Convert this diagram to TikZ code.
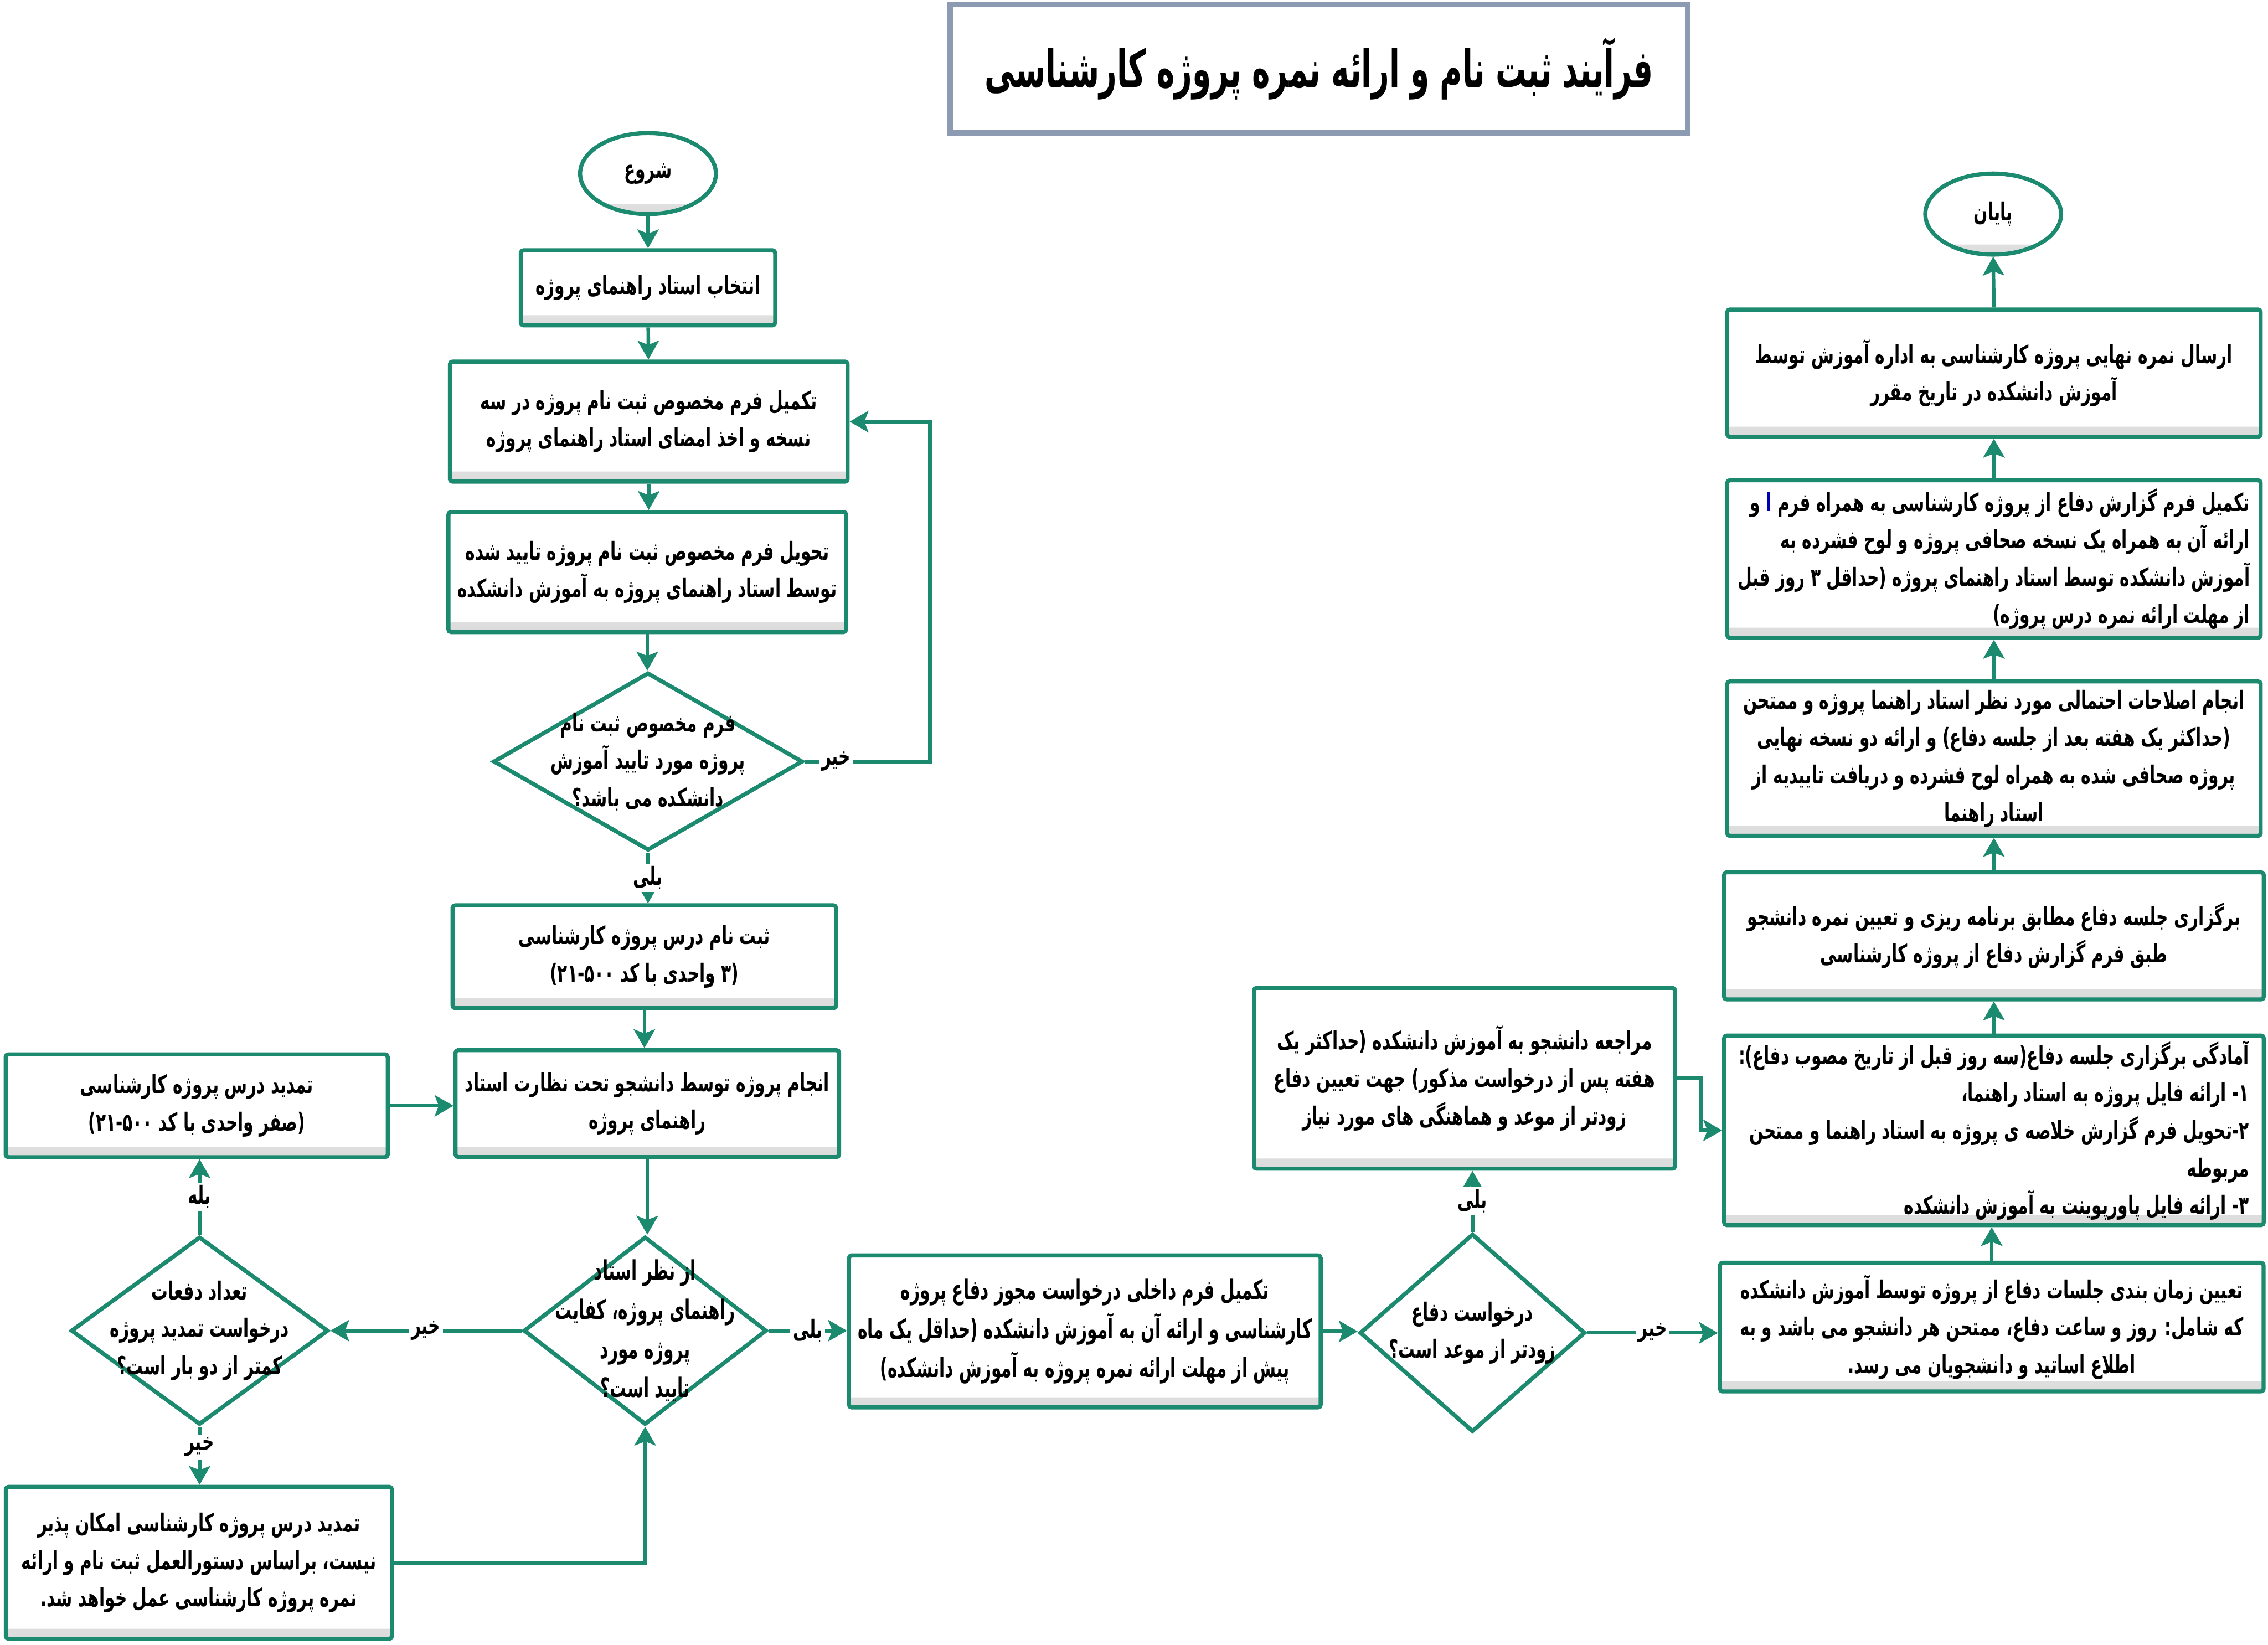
\documentclass[tikz,border=0pt]{standalone}
\usepackage{fontspec}
\usepackage{tikz}
\usetikzlibrary{arrows.meta,shapes.geometric,calc}
\newfontfamily\arabicfont[Script=Arabic,FakeStretch=0.66]{DejaVu Sans}
\newfontfamily\arabicnarrow[Script=Arabic,FakeStretch=0.615]{DejaVu Sans}
\newfontfamily\titlefont[Script=Arabic,FakeStretch=0.59]{DejaVu Sans}
\TeXXeTstate=1
\newcommand\fa[1]{\beginR #1\endR}
\definecolor{flow}{HTML}{1B8A6F}
\definecolor{frame}{HTML}{8C9BB2}
\tikzset{
  >={Stealth[length=3.7mm,width=4.2mm,inset=0.8mm]},
  stage/.style={draw=flow, line width=2.3pt, rounded corners=1.5pt, fill=white, align=center,
                inner sep=1pt, font=\arabicfont\bfseries\fontsize{14}{21}\selectfont,
                path picture={\shade[top color=white, bottom color=black!14]
                  (path picture bounding box.south west) rectangle ([yshift=2mm]path picture bounding box.south east);}},
  narrow/.style={font=\arabicnarrow\bfseries\fontsize{15}{22}\selectfont},
  term/.style={stage, ellipse, minimum width=2.68cm, minimum height=1.6cm},
  decision/.style={diamond, draw=flow, line width=2.3pt, fill=white, inner sep=0pt},
  dtext/.style={align=center, font=\arabicfont\bfseries\fontsize{14}{21}\selectfont},
  lbl/.style={fill=white, inner sep=1.5pt, font=\arabicfont\bfseries\fontsize{14}{15}\selectfont},
  link/.style={->, draw=flow, line width=2pt},
}
\begin{document}
\begin{tikzpicture}[x=0.02855cm, y=-0.02855cm]
  \useasboundingbox (0,0) rectangle (1568,1137);
  % title
  \node[draw=frame, line width=3pt, minimum width=14.56cm, minimum height=2.54cm,
        font=\titlefont\bfseries\fontsize{29}{34}\selectfont] (title) at (912,47.5)
    {\fa{فرآیند ثبت نام و ارائه نمره پروژه کارشناسی}};
  % registration column
  \node[term] (start) at (448,120) {\fa{شروع}};
  \node[stage, minimum width=5.02cm, minimum height=1.48cm] (a) at (448,199)
    {\fa{انتخاب استاد راهنمای پروژه}};
  \node[stage, minimum width=7.85cm, minimum height=2.37cm] (b) at (448.5,291.5)
    {\fa{تکمیل فرم مخصوص ثبت نام پروژه در سه}\\\fa{نسخه و اخذ امضای استاد راهنمای پروژه}};
  \node[stage, minimum width=7.85cm, minimum height=2.37cm] (c) at (447.5,395.5)
    {\fa{تحویل فرم مخصوص ثبت نام پروژه تایید شده}\\\fa{توسط استاد راهنمای پروژه به آموزش دانشکده}};
  \node[decision, minimum width=6.11cm, minimum height=3.51cm] (d1) at (448,526.5) {};
  \node[dtext] (d1t) at (d1) {\fa{فرم مخصوص ثبت نام}\\\fa{پروژه مورد تایید آموزش}\\\fa{دانشکده می باشد؟}};
  \node[stage, minimum width=7.57cm, minimum height=2.03cm] (e) at (445.5,661.5)
    {\fa{ثبت نام درس پروژه کارشناسی}\\\fa{(۳ واحدی با کد ۲۱-۵۰۰)}};
  \node[stage, minimum width=7.57cm, minimum height=2.11cm] (f) at (447.5,763)
    {\fa{انجام پروژه توسط دانشجو تحت نظارت استاد}\\\fa{راهنمای پروژه}};
  \node[decision, minimum width=4.8cm, minimum height=3.71cm] (d2) at (446,920) {};
  \node[dtext, narrow] (d2t) at (d2) {\fa{از نظر استاد}\\\fa{راهنمای پروژه، کفایت}\\\fa{پروژه مورد}\\\fa{تایید است؟}};
  % extension branch
  \node[decision, minimum width=5.08cm, minimum height=3.71cm] (d3) at (138,920) {};
  \node[dtext] (d3t) at (d3) {\fa{تعداد دفعات}\\\fa{درخواست تمدید پروژه}\\\fa{کمتر از دو بار است؟}};
  \node[stage, minimum width=7.54cm, minimum height=2.03cm] (h) at (136,764.5)
    {\fa{تمدید درس پروژه کارشناسی}\\\fa{(صفر واحدی با کد ۲۱-۵۰۰)}};
  \node[stage, minimum width=7.62cm, minimum height=3cm] (i) at (137.5,1080.5)
    {\fa{تمدید درس پروژه کارشناسی امکان پذیر}\\\fa{نیست، براساس دستورالعمل ثبت نام و ارائه}\\\fa{نمره پروژه کارشناسی عمل خواهد شد.}};
  % defence request
  \node[stage, narrow, minimum width=9.31cm, minimum height=3cm] (g) at (750,920.5)
    {\fa{تکمیل فرم داخلی درخواست مجوز دفاع پروژه}\\\fa{کارشناسی و ارائه آن به آموزش دانشکده (حداقل یک ماه}\\\fa{پیش از مهلت ارائه نمره پروژه به آموزش دانشکده)}};
  \node[decision, minimum width=4.45cm, minimum height=3.91cm] (d4) at (1018,921.5) {};
  \node[dtext] (d4t) at (d4) {\fa{درخواست دفاع}\\\fa{زودتر از موعد است؟}};
  \node[stage, minimum width=8.31cm, minimum height=3.57cm] (k) at (1012.5,745.5)
    {\fa{مراجعه دانشجو به آموزش دانشکده (حداکثر یک}\\\fa{هفته پس از درخواست مذکور) جهت تعیین دفاع}\\\fa{زودتر از موعد و هماهنگی های مورد نیاز}};
  % defence and grading column
  \node[stage, minimum width=10.73cm, minimum height=2.54cm] (j) at (1377,917.5)
    {\fa{تعیین زمان بندی جلسات دفاع از پروژه توسط آموزش دانشکده}\\\fa{که شامل: روز و ساعت دفاع، ممتحن هر دانشجو می باشد و به}\\\fa{اطلاع اساتید و دانشجویان می رسد.}};
  \node[stage, align=right, minimum width=10.65cm, minimum height=3.74cm] (l) at (1378.5,781.5)
    {\fa{آمادگی برگزاری جلسه دفاع(سه روز قبل از تاریخ مصوب دفاع):}\\\fa{۱- ارائه فایل پروژه به استاد راهنما،}\\\fa{۲-تحویل فرم گزارش خلاصه ی پروژه به استاد راهنما و ممتحن}\\\fa{مربوطه}\\\fa{۳- ارائه فایل پاورپوینت به آموزش دانشکده}};
  \node[stage, minimum width=10.65cm, minimum height=2.51cm] (m) at (1378.5,647)
    {\fa{برگزاری جلسه دفاع مطابق برنامه ریزی و تعیین نمره دانشجو}\\\fa{طبق فرم گزارش دفاع از پروژه کارشناسی}};
  \node[stage, minimum width=10.53cm, minimum height=3.05cm] (n) at (1378.5,524.5)
    {\fa{انجام اصلاحات احتمالی مورد نظر استاد راهنما پروژه و ممتحن}\\\fa{(حداکثر یک هفته بعد از جلسه دفاع) و ارائه دو نسخه نهایی}\\\fa{پروژه صحافی شده به همراه لوح فشرده و دریافت تاییدیه از}\\\fa{استاد راهنما}};
  \node[stage, align=right, minimum width=10.53cm, minimum height=3.11cm] (o) at (1378.5,386.5)
    {\fa{و} \textcolor{blue!70!black}{\fa{ا}} \fa{تکمیل فرم گزارش دفاع از پروژه کارشناسی به همراه فرم}\\\fa{ارائه آن به همراه یک نسخه صحافی پروژه و لوح فشرده به}\\\fa{آموزش دانشکده توسط استاد راهنمای پروژه (حداقل ۳ روز قبل}\\\fa{از مهلت ارائه نمره درس پروژه)}};
  \node[stage, minimum width=10.53cm, minimum height=2.51cm] (p) at (1378.5,258)
    {\fa{ارسال نمره نهایی پروژه کارشناسی به اداره آموزش توسط}\\\fa{آموزش دانشکده در تاریخ مقرر}};
  \node[term] (end) at (1378,148) {\fa{پایان}};
  % connectors
  \draw[link] (start) -- (a);
  \draw[link] (a) -- (b);
  \draw[link] (b) -- (b.south |- c.north);
  \draw[link] (c) -- (c.south |- d1.north);
  \coordinate (d1r) at (643,526.5);
  \draw[link] (d1.east) -- node[lbl,pos=.25]{\fa{خیر}} (d1r) |- (b.east);
  \draw[link] (d1.south) -- node[lbl]{\fa{بلی}} (d1.south |- e.north);
  \draw[link] (e.south) -- (e.south |- f.north);
  \draw[link] (f.south) -- (f.south |- d2.north);
  \draw[link] (d2.east) -- node[lbl]{\fa{بلی}} (d2.east -| g.west);
  \draw[link] (d2.west) -- node[lbl]{\fa{خیر}} (d3.east);
  \draw[link] (d3.north) -- node[lbl]{\fa{بله}} (d3.north |- h.south);
  \draw[link] (d3.south) -- node[lbl,pos=.35]{\fa{خیر}} (d3.south |- i.north);
  \draw[link] (h.east) -- (h.east -| f.west);
  \draw[link] (i.east) -| (d2.south);
  \draw[link] (g.east) -- (g.east -| d4.west);
  \draw[link] (d4.east) -- node[lbl]{\fa{خیر}} (d4.east -| j.west);
  \draw[link] (d4.north) -- node[lbl]{\fa{بلی}} (d4.north |- k.south);
  \coordinate (kr) at (1176,745.5);
  \draw[link] (k.east) -- (kr) |- (l.west);
  \draw[link] (j.north) -- (j.north |- l.south);
  \draw[link] (l.north) -- (l.north |- m.south);
  \draw[link] (m.north) -- (m.north |- n.south);
  \draw[link] (n.north) -- (n.north |- o.south);
  \draw[link] (o.north) -- (o.north |- p.south);
  \draw[link] (p.north) -- (end.south);
\end{tikzpicture}
\end{document}
